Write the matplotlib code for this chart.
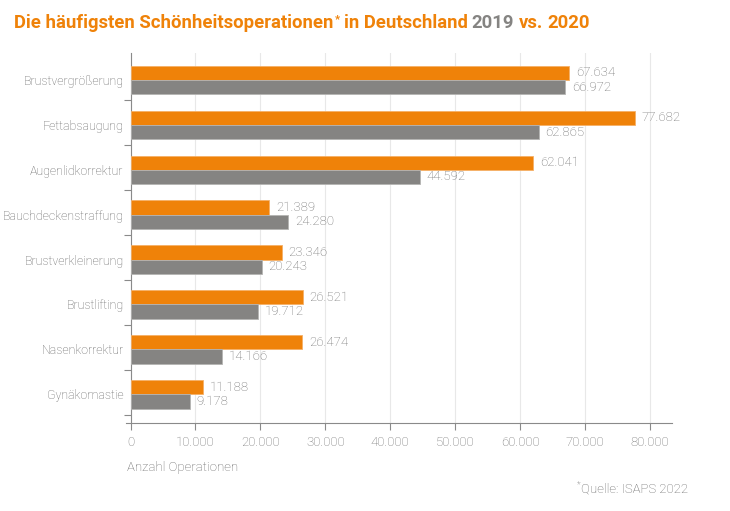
import numpy as np
import matplotlib
matplotlib.use("Agg")
from matplotlib import pyplot as plt

# Daten (ISAPS), Anzahl Operationen in Deutschland
categories = ["Brustvergrößerung", "Fettabsaugung", "Augenlidkorrektur",
              "Bauchdeckenstraffung", "Brustverkleinerung", "Brustlifting",
              "Nasenkorrektur", "Gynäkomastie"]
values_2020 = [67634, 77682, 62041, 21389, 23346, 26521, 26474, 11188]
values_2019 = [66972, 62865, 44592, 24280, 20243, 19712, 14166, 9178]
xticks = [0, 10000, 20000, 30000, 40000, 50000, 60000, 70000, 80000]

ORANGE = "#EF8209"
GREY = "#858482"
TEXT = "#666666"
LIGHT = "#6e6e6e"

plt.rcParams['font.family'] = ['Roboto', 'DejaVu Sans']
plt.rcParams['font.weight'] = 'light'

W, H = 730, 511


def fmt(v):
    return "{:,}".format(v).replace(",", ".")


fig = plt.figure(figsize=(W / 100, H / 100), dpi=100)
ax = fig.add_axes([126 / W, 1 - 422.5 / H, 546 / W, 369 / H])

y = np.arange(len(categories))
h = 0.318
ax.barh(y - h / 2, values_2020, height=h, color=ORANGE,
        edgecolor="#f5b067", linewidth=0.6, zorder=3)
ax.barh(y + h / 2, values_2019, height=h, color=GREY,
        edgecolor="#b5b4b2", linewidth=0.6, zorder=3)

for i in range(len(categories)):
    ax.annotate(fmt(values_2020[i]), (values_2020[i], y[i] - h / 2),
                xytext=(4.8, 0), textcoords="offset points", va="center",
                ha="left", fontsize=9.5, color=LIGHT)
    ax.annotate(fmt(values_2019[i]), (values_2019[i], y[i] + h / 2),
                xytext=(4.8, 0), textcoords="offset points", va="center",
                ha="left", fontsize=9.5, color=LIGHT)

ax.set_xlim(-700, 83430)
ax.set_ylim(len(categories) - 1 + 0.628, -0.59)

ax.set_xticks(xticks)
ax.set_xticklabels([fmt(t) for t in xticks])
ax.tick_params(axis="x", length=5, width=0.8, color="#8a8a8a", pad=5,
               labelsize=9.5, labelcolor=LIGHT)

ax.set_yticks(y)
ax.set_yticklabels(categories)
ax.set_yticks(y + 0.45, minor=True)
ax.tick_params(axis="y", which="major", length=0, pad=5, labelsize=8.9,
               labelcolor=TEXT)
ax.tick_params(axis="y", which="minor", length=5, width=0.8, color="#8a8a8a")

ax.grid(axis="x", color="#e8e8e8", linewidth=0.8, zorder=0)
ax.set_axisbelow(True)

for s in ["top", "right"]:
    ax.spines[s].set_visible(False)
ax.spines["left"].set_position(("data", 0))
for s in ["left", "bottom"]:
    ax.spines[s].set_color("#8a8a8a")
    ax.spines[s].set_linewidth(0.8)

fig.text(127 / W, 1 - 468 / H, "Anzahl Operationen", fontsize=9.5,
         color=TEXT, ha="left", va="center")

# Titel aus mehreren farbigen Teilen, nebeneinander gesetzt
fig.canvas.draw()
rend = fig.canvas.get_renderer()
parts = [("Die häufigsten Schönheitsoperationen", ORANGE, 13.35, 0, 0),
         ("*", ORANGE, 8, 6, 1),
         ("in Deutschland", ORANGE, 13.35, 0, 4),
         ("2019", GREY, 13.35, 0, 4.5),
         ("vs.", ORANGE, 13.35, 0, 4.5),
         ("2020", ORANGE, 13.35, 0, 4.5)]
x = 14
for txt, col, fs, dy, gap in parts:
    x += gap
    t = fig.text(x / W, 1 - (28.5 - dy) / H, txt, color=col, fontsize=fs,
                 fontweight="bold", va="baseline", ha="left")
    x = t.get_window_extent(rend).x1

# Quellenangabe mit hochgestelltem Stern
q = fig.text(688 / W, 1 - 489 / H, "Quelle: ISAPS 2022", fontsize=9.5,
             color=TEXT, ha="right", va="center")
qx = q.get_window_extent(rend).x0
fig.text((qx - 0.5) / W, 1 - 485 / H, "*", fontsize=6.5, color=TEXT,
         ha="right", va="center")

fig.savefig("out.png", dpi=100)
